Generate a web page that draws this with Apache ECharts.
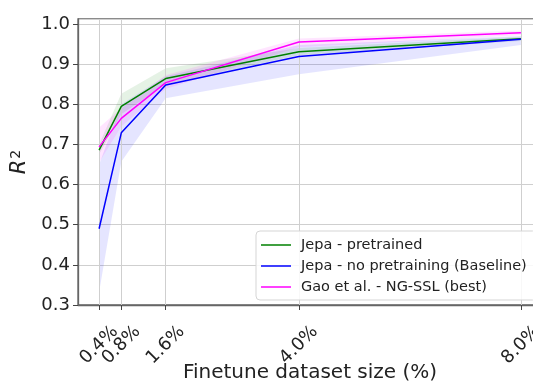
<!DOCTYPE html>
<html>
<head>
<meta charset="utf-8">
<script src="https://cdn.jsdelivr.net/npm/echarts@6/dist/echarts.min.js"></script>
<style>
html,body{margin:0;padding:0;background:#fff;}
#chart{width:533px;height:382px;}
</style>
</head>
<body>
<div id="chart"></div>
<script>
// finetune dataset sizes (%) and their tick labels
var sizes = [0.4, 0.8, 1.6, 4.0, 8.0];
var sizeLabels = ['0.4%', '0.8%', '1.6%', '4.0%', '8.0%'];

// Jepa - pretrained
var jepaPre = [0.686, 0.795, 0.864, 0.931, 0.963];
var jepaPreLow = [0.675, 0.775, 0.850, 0.922, 0.958];
var jepaPreHigh = [0.700, 0.826, 0.890, 0.940, 0.968];

// Jepa - no pretraining (Baseline)
var jepaBase = [0.490, 0.729, 0.848, 0.919, 0.962];
var jepaBaseLow = [0.332, 0.657, 0.815, 0.875, 0.948];
var jepaBaseHigh = [0.650, 0.800, 0.870, 0.948, 0.970];

// Gao et al. - NG-SSL (best)
var gao = [0.694, 0.765, 0.854, 0.955, 0.978];
var gaoLow = [0.655, 0.745, 0.838, 0.942, 0.972];
var gaoHigh = [0.742, 0.790, 0.873, 0.964, 0.984];

var FONT = 'DejaVu Sans';
var X_MIN = 0.02, X_MAX = 8.38;

function pairs(vals){
	var out = [];
	for(var i=0;i<sizes.length;i++){
		out.push([sizes[i], vals[i]]);
	}
	return out;
}

function sizeLabel(v){
	for(var i=0;i<sizes.length;i++){
		if(Math.abs(v - sizes[i]) < 1e-6) return sizeLabels[i];
	}
	return '';
}

// shaded spread between low and high, drawn as one polygon
function band(low, high, color){
	return {
		type: 'custom',
		silent: true,
		z: 1,
		data: [[sizes[0], low[0]]],
		renderItem: function(params, api){
			var pts = [];
			for(var i=0;i<sizes.length;i++){
				pts.push(api.coord([sizes[i], high[i]]));
			}
			for(var j=sizes.length-1;j>=0;j--){
				pts.push(api.coord([sizes[j], low[j]]));
			}
			return {
				type: 'polygon',
				shape: {points: pts},
				style: {fill: color, stroke: null}
			};
		}
	};
}

function line(name, vals, color){
	return {
		name: name,
		type: 'line',
		symbol: 'none',
		showSymbol: false,
		lineStyle: {color: color, width: 1.5},
		itemStyle: {color: color},
		data: pairs(vals),
		z: 10
	};
}

// x tick labels, split over two stacked axes so close ticks don't hide each other
function labelAxis(vals, extra){
	var ax = {
		type: 'value',
		min: X_MIN, max: X_MAX,
		position: 'bottom',
		axisLine: {show: false},
		axisTick: {show: false},
		splitLine: {show: false},
		axisLabel: {
			customValues: vals,
			interval: 0,
			showMinLabel: true,
			showMaxLabel: true,
			rotate: 45,
			align: 'center',
			verticalAlign: 'middle',
			margin: 40,
			fontFamily: FONT, fontSize: 18, color: '#222',
			formatter: sizeLabel
		}
	};
	for(var k in extra) ax[k] = extra[k];
	return ax;
}

var gridLines = {
	name: 'vgrid',
	type: 'line',
	data: [],
	silent: true,
	markLine: {
		silent: true,
		symbol: ['none', 'none'],
		label: {show: false},
		lineStyle: {color: '#cfcfcf', width: 1, type: 'solid'},
		z: 2,
		data: sizes.map(function(x){ return {xAxis: x}; })
	}
};

var series = [
	gridLines,
	band(jepaPreLow, jepaPreHigh, 'rgba(0,128,0,0.1)'),
	band(jepaBaseLow, jepaBaseHigh, 'rgba(0,0,255,0.1)'),
	band(gaoLow, gaoHigh, 'rgba(255,0,255,0.1)'),
	line('Jepa - pretrained', jepaPre, '#008000'),
	line('Jepa - no pretraining (Baseline)', jepaBase, '#0000ff'),
	line('Gao et al. - NG-SSL (best)', gao, '#ff00ff')
];

var myChart = echarts.init(document.getElementById('chart'));
var option = {
	animation: false,
	textStyle: {fontFamily: FONT},
	grid: {
		left: 78, right: -9, top: 19, bottom: 77,
		containLabel: false,
		outerBoundsMode: 'none',
		show: true, borderColor: '#666', borderWidth: 1.3
	},
	legend: {
		data: ['Jepa - pretrained', 'Jepa - no pretraining (Baseline)', 'Gao et al. - NG-SSL (best)'],
		orient: 'vertical',
		left: 256, top: 231,
		padding: [6, 10, 5, 5],
		icon: 'rect',
		itemWidth: 30, itemHeight: 1.5, itemGap: 5,
		backgroundColor: 'rgba(255,255,255,0.85)',
		borderColor: '#d5d5d5', borderWidth: 1, borderRadius: 4,
		textStyle: {fontFamily: FONT, fontSize: 14.5, color: '#222', lineHeight: 16, padding: [0, 0, 0, 5]}
	},
	xAxis: [
		labelAxis(sizes.filter(function(v, i){ return i % 2 === 0; }), {
			name: 'Finetune dataset size (%)',
			nameLocation: 'middle',
			nameGap: 58,
			nameMoveOverlap: false,
			nameTextStyle: {fontFamily: FONT, fontSize: 20, color: '#222'},
			axisLine: {show: true, lineStyle: {color: '#666', width: 1.3}},
			axisTick: {show: true, length: 5, customValues: sizes, lineStyle: {color: '#444'}}
		}),
		labelAxis(sizes.filter(function(v, i){ return i % 2 === 1; }), {})
	],
	yAxis: {
		type: 'value',
		min: 0.3, max: 1.0125, interval: 0.1,
		name: '{r|R}{s|2}',
		nameLocation: 'middle',
		nameGap: 47,
		nameMoveOverlap: false,
		nameTextStyle: {
			fontFamily: FONT, color: '#222',
			rich: {
				r: {fontSize: 21, fontStyle: 'italic', fontFamily: FONT, color: '#222'},
				s: {fontSize: 14, fontFamily: FONT, color: '#222', verticalAlign: 'top', padding: [0, 0, 8, 1]}
			}
		},
		axisLine: {show: true, lineStyle: {color: '#666', width: 1.3}},
		axisTick: {show: true, length: 5, lineStyle: {color: '#444'}},
		splitLine: {show: true, lineStyle: {color: '#cfcfcf', width: 1}},
		axisLabel: {
			showMaxLabel: false,
			margin: 8,
			fontFamily: FONT, fontSize: 18, color: '#222',
			formatter: function(v){ return v.toFixed(1); }
		}
	},
	series: series
};
myChart.setOption(option);
</script>
</body>
</html>
